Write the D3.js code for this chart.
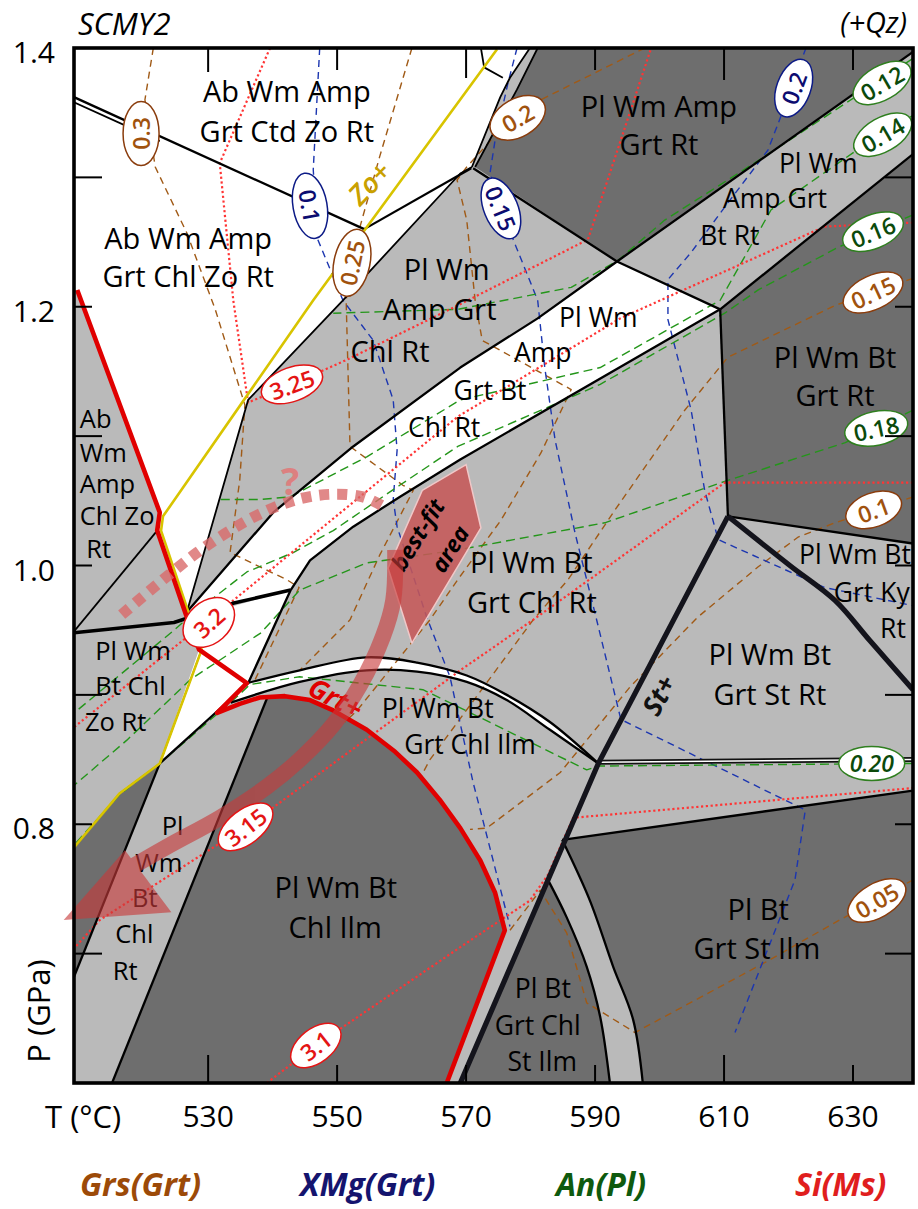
<!DOCTYPE html>
<html><head><meta charset="utf-8">
<script src="https://cdn.jsdelivr.net/npm/d3@7"></script>
<style>body{margin:0;background:#fff}svg{display:block}text{font-family:"Open Sans",sans-serif}</style>
</head><body>
<svg id="c" width="918" height="1209"></svg>
<script>
// ================= DATA (T in °C, P in GPa) =================
const tTicks = [530, 550, 570, 590, 610, 630];
const pTicks = [0.7, 0.8, 0.9, 1.0, 1.1, 1.2, 1.3];
const pLabels = [0.8, 1.0, 1.2, 1.4];

// field boundaries
const bandTop = [[593.4,1.235],[581.1,1.191],[569.1,1.153],[552.5,1.092],[540.1,1.041],[526.7,0.964]];
const bandBottom = [[609.4,1.198],[569.1,1.082],[559.7,1.053],[552.5,1.030],[545.8,1.004],[542.8,0.981]];
const thickLine = [[509.2,0.948],[524.7,0.956],[534.0,0.971],[542.8,0.981]];
const arcTop = [[536.0,0.909],[544.2,0.919],[554.6,0.929],[562.4,0.925],[570.1,0.915],[576.3,0.900],[583.0,0.879],[590.5,0.847]];
const arcBottom = [[533.5,0.894],[544.2,0.910],[554.6,0.919],[562.4,0.918],[570.1,0.910],[576.3,0.896],[583.0,0.873],[590.5,0.847]];
const stPlus = [[610.6,1.038],[590.5,0.847],[569.1,0.6]];
const kyLine = [[610.6,1.038],[620.2,1.000],[627.2,0.973],[632.6,0.942],[639.3,0.904]];
const rightCurve = [[584.9,0.788],[589.2,0.741],[592.8,0.690],[595.9,0.649],[597.4,0.6]];
const leftCurve = [[582.7,0.757],[585.6,0.728],[588.7,0.690],[590.8,0.651],[592.3,0.6]];
const hLine = [[590.5,0.848],[639.3,0.850]];
const redPath = [[509.7,1.213],[522.5,1.041],[522.1,1.027],[526.7,0.960],[528.6,0.935],[536.0,0.909],[531.4,0.886],[534.9,0.893],[538.0,0.898],[541.9,0.899],[545.8,0.896],[549.4,0.888],[554.6,0.873],[559.0,0.856],[562.4,0.840],[565.9,0.819],[569.1,0.797],[572.2,0.772],[574.5,0.747],[576.0,0.718],[567.0,0.6]];
const zoLine = [[574.8,1.399],[546.3,1.205],[523.0,1.038],[522.7,1.027],[527.2,0.960],[529.0,0.935],[522.5,0.847],[516.3,0.824],[509.2,0.782]];
const zoUnder = [[529.0,0.935],[522.5,0.847],[516.3,0.824],[509.2,0.782]];

const thinBounds = [
  [[509.2,1.358],[522.5,1.328]],
  [[570.9,1.308],[569.1,1.303],[550.9,1.205],[539.1,1.143],[536.2,1.128],[526.7,0.964]],
  [[570.9,1.308],[575.3,1.362],[576.8,1.377],[579.9,1.4]],
  [[571.4,1.308],[577.9,1.368],[581.1,1.4]],
  [[572.3,1.4],[572.8,1.385],[575.7,1.377]],
  [[509.2,0.949],[522.1,1.027]]
];
const midBounds = [
  [[509.2,1.362],[554.2,1.260]],
  [[554.2,1.260],[570.8,1.307]],
  [[571.1,1.307],[593.4,1.235],[609.4,1.198]],
  [[593.4,1.235],[639.3,1.397]],
  [[609.4,1.198],[639.3,1.318]],
  [[609.4,1.198],[610.6,1.038]],
  [[610.6,1.038],[639.3,1.017]],
  [[542.8,0.981],[536.2,0.909],[522.5,0.847]],
  [[522.5,0.847],[509.2,0.682]],
  [[539.1,0.897],[515.1,0.6]],
  [[584.9,0.788],[639.3,0.826]]
];

// fields
const white1 = [[509.2,1.4],[579.9,1.4],[576.8,1.377],[575.3,1.362],[570.9,1.308],[569.1,1.303],[550.9,1.205],[539.1,1.143],[536.2,1.128],[526.7,0.964],[522.1,1.027],[522.5,1.041],[509.7,1.213],[509.2,1.213]];
const white3 = [[527.0,0.959],[542.8,0.981],[536.2,0.909],[531.4,0.886],[522.5,0.847],[528.6,0.935]];
const dark1 = [[581.1,1.4],[639.3,1.4],[639.3,1.397],[593.4,1.235],[571.4,1.308],[577.9,1.368]];
const dark2 = [[609.4,1.198],[639.3,1.318],[639.3,1.017],[610.6,1.038]];
const dark4 = [[509.2,0.782],[516.3,0.824],[522.5,0.847],[509.2,0.682]];

// isopleths
const grsLines = [
  [[521.5,1.4],[520.2,1.360],[521.8,1.308],[526.7,1.257],[531.1,1.198],[535.7,1.124],[534.9,1.066],[533.4,1.010],[542.2,0.989],[544.1,0.983],[537.3,0.912]],
  [[561.6,1.4],[556.6,1.316],[553.5,1.261],[552.3,1.235],[551.4,1.205],[552.0,1.092],[560.2,1.062],[561.8,1.058],[556.6,1.008],[552.0,0.958],[544.2,0.919]],
  [[597.7,1.4],[581.6,1.360],[578.0,1.346],[573.9,1.329],[570.1,1.308],[568.6,1.298],[570.1,1.267],[571.4,1.205],[572.5,1.174],[586.3,1.136],[581.6,1.087],[575.4,1.035],[568.7,0.989],[564.4,0.958],[553.1,0.888],[551.2,0.879]],
  [[639.3,1.222],[627.2,1.201],[610.6,1.161],[603.9,1.120],[593.1,1.043],[585.8,0.989],[580.4,0.958],[564.4,0.850],[562.9,0.836]],
  [[639.3,1.053],[627.2,1.033],[621.5,1.022],[615.3,0.999],[605.9,0.960],[595.4,0.906],[584.6,0.840],[573.2,0.797],[570.6,0.796]],
  [[639.3,0.757],[627.2,0.724],[616.3,0.693],[596.2,0.639],[588.7,0.662],[585.6,0.716],[581.5,0.749],[576.8,0.718]]
];
const xmgLines = [
  [[547.3,1.4],[546.3,1.306],[547.0,1.252],[550.9,1.205],[555.6,1.174],[558.7,1.128],[559.3,1.089],[558.7,1.051],[559.3,1.030],[563.9,0.960],[567.5,0.914],[571.1,0.832],[572.2,0.811],[576.8,0.721]],
  [[577.9,1.4],[576.5,1.373],[574.5,1.329],[573.7,1.303],[577.3,1.252],[581.1,1.205],[582.2,1.153],[583.8,1.097],[586.9,1.025],[590.0,0.963],[594.0,0.881],[622.6,0.811],[621.0,0.757],[611.7,0.639]],
  [[622.7,1.4],[618.8,1.347],[616.8,1.321],[610.1,1.277],[604.9,1.242],[601.3,1.221],[601.3,1.190],[604.9,1.120],[607.0,1.058],[609.1,1.020],[625.6,0.983],[639.3,0.969]]
];
const anLines = [
  [[639.3,1.392],[630.3,1.362],[615.3,1.313],[600.8,1.267],[593.6,1.236],[586.3,1.215],[568.7,1.198],[549.4,1.195]],
  [[639.3,1.348],[630.3,1.320],[617.3,1.275],[609.4,1.205],[590.8,1.153],[569.1,1.128],[554.6,1.084],[542.7,1.053],[538.0,1.051],[531.4,1.051]],
  [[639.3,1.271],[627.7,1.246],[615.3,1.213],[610.1,1.195],[590.8,1.140],[568.7,1.092],[559.7,1.062],[549.4,1.027],[543.2,1.010],[536.0,0.995],[527.0,0.960],[524.7,0.950],[509.2,0.886]],
  [[639.3,1.120],[628.8,1.095],[610.1,1.065],[591.5,1.033],[568.7,1.012],[554.6,1.002],[544.2,0.981],[538.2,0.948],[527.3,0.912],[517.4,0.865],[509.2,0.830]],
  [[639.3,0.847],[590.5,0.845],[588.7,0.842],[568.7,0.891],[563.3,0.904],[544.2,0.914],[536.5,0.908],[533.9,0.896],[522.5,0.847],[516.3,0.823],[509.2,0.784]]
];
const siLines = [
  [[539.6,1.4],[531.8,1.311],[533.9,1.205],[536.2,1.126],[543.0,1.140],[551.5,1.159],[568.7,1.201],[588.9,1.252],[598.7,1.4]],
  [[639.3,1.265],[625.6,1.262],[593.9,1.191],[568.7,1.115],[533.9,0.973],[530.1,0.956],[526.3,0.943],[509.2,0.875]],
  [[639.3,1.064],[610.1,1.064],[580.4,0.958],[569.1,0.919],[540.1,0.813],[535.8,0.798],[513.2,0.726],[509.2,0.704]],
  [[539.1,0.6],[546.7,0.629],[569.1,0.705],[579.9,0.741],[582.7,0.761],[586.6,0.805],[639.3,0.828]]
];

// isopleth labels [text, T, P]
const grsLabels = [["0.3",519.6,1.334],["0.25",552.3,1.234],["0.2",578.0,1.346],["0.15",633.1,1.211],["0.1",633.2,1.043],["0.05",633.7,0.741]];
const xmgLabels = [["0.1",545.8,1.278],["0.15",575.4,1.276],["0.2",620.8,1.369]];
const anLabels = [["0.12",634.5,1.373],["0.14",634.6,1.333],["0.16",633.1,1.258],["0.18",633.6,1.106],["0.20",632.9,0.847]];
const siLabels = [["3.25",543.0,1.140],["3.2",530.1,0.956],["3.15",535.8,0.798],["3.1",546.7,0.629]];

// field names [text, T, P]
const fieldNamesBig = [
  ["Ab Wm Amp",542.2,1.358],["Grt Ctd Zo Rt",542.2,1.327],
  ["Ab Wm Amp",526.9,1.245],["Grt Chl Zo Rt",526.9,1.215],
  ["Pl Wm Amp",599.9,1.347],["Grt Rt",599.9,1.317],
  ["Pl Wm",567.0,1.221],["Amp Grt",565.9,1.190],["Chl Rt",558.2,1.157],
  ["Pl Wm Bt",627.2,1.153],["Grt Rt",627.2,1.123],
  ["Pl Wm Bt",580.1,0.994],["Grt Chl Rt",580.2,0.963],
  ["Pl Wm Bt",617.1,0.923],["Grt St Rt",617.1,0.892],
  ["Pl Wm Bt",549.8,0.743],["Chl Ilm",549.7,0.712],
  ["Pl Bt",615.3,0.726],["Grt St Ilm",615.1,0.696]
];
const fieldNamesSmall = [
  ["Pl Wm",624.6,1.303],["Amp Grt",617.9,1.276],["Bt Rt",610.9,1.248],
  ["Pl Wm",590.5,1.184],["Amp",581.9,1.157],["Grt Bt",573.7,1.128],["Chl Rt",566.6,1.099],
  ["Pl Wm Bt",630.3,1.001],["Grt Ky",632.9,0.972],["Rt",636.2,0.944],
  ["Pl Wm Bt",565.6,0.882],["Grt Chl Ilm",570.6,0.854],
  ["Pl Bt",581.9,0.666],["Grt Chl",581.1,0.637],["St Ilm",581.8,0.609]
];
const fieldNamesLeft = [
  ["Ab",510.1,1.106],["Wm",510.1,1.080],["Amp",510.1,1.056],["Chl Zo",510.1,1.031],["Rt",511.1,1.006],
  ["Pl Wm",512.5,0.927],["Bt Chl",512.5,0.900],["Zo Rt",510.9,0.872],
  ["Pl",522.8,0.792],["Wm",518.7,0.763],["Bt",518.2,0.736],["Chl",515.6,0.708],["Rt",515.2,0.680]
];

// interpretation
const bestFit = [[563.2,1.058],[570.0,1.078],[572.3,1.029],[561.6,0.940],[557.9,0.998]];
const pathArrow = [[559.0,1.012],[558.7,0.973],[557.1,0.945],[553.5,0.907],[549.4,0.877],[544.2,0.850],[539.1,0.829],[531.8,0.805],[524.1,0.784],[518.5,0.768]];
const arrowHead = [[517.1,0.780],[524.3,0.732],[507.6,0.726]];
const dottedPath = [[516.6,0.962],[522.5,0.987],[528.3,1.010],[533.4,1.027],[538.5,1.041],[543.8,1.051],[548.9,1.055],[554.0,1.053],[557.4,1.045]];

// ================= DRAWING =================
const svg = d3.select("#c");
const X = d3.scaleLinear().domain([509.2, 639.3]).range([74, 913]);
const Y = d3.scaleLinear().domain([0.6, 1.4]).range([1083, 48]);
const line = d3.line().x(d => X(d[0])).y(d => Y(d[1]));
const smooth = d3.line().x(d => X(d[0])).y(d => Y(d[1])).curve(d3.curveCatmullRom.alpha(0.5));
const poly = p => line(p) + "Z";
const smoothPoly = (a, b) => smooth(a) + smooth(b.slice().reverse()).replace(/^M/, "L") + "Z";

svg.append("defs").append("clipPath").attr("id", "pc").append("rect")
  .attr("x", X(509.2)).attr("y", Y(1.4)).attr("width", X(639.3) - X(509.2)).attr("height", Y(0.6) - Y(1.4));
const plot = svg.append("g").attr("clip-path", "url(#pc)");

const LG = "#bababa", DG = "#6e6e6e";
plot.append("rect").attr("x", X(509.2)).attr("y", Y(1.4)).attr("width", X(639.3) - X(509.2)).attr("height", Y(0.6) - Y(1.4)).attr("fill", LG);

const white2 = bandTop.concat([thickLine[2], thickLine[3]]).concat(bandBottom.slice(0, -1).reverse());
const dark3 = [[539.1,0.897]].concat(redPath.slice(9)).concat([[515.1,0.6]]);
const dark5 = [leftCurve[0], stPlus[2]].concat(leftCurve.slice(1).reverse());
const dark6 = [rightCurve[0], [639.3,0.826], [639.3,0.6]].concat(rightCurve.slice(1).reverse());

[white1, white2, white3].forEach(p => plot.append("path").attr("d", poly(p)).attr("fill", "#fff"));
plot.append("path").attr("d", smoothPoly(arcTop, arcBottom)).attr("fill", "#fff");
[dark1, dark2, dark3, dark4].forEach(p => plot.append("path").attr("d", poly(p)).attr("fill", DG));
plot.append("path").attr("d", line([leftCurve[0], stPlus[2], [592.3,0.6]]) + smooth(leftCurve.slice().reverse()).replace(/^M/, "L") + "Z").attr("fill", DG);
plot.append("path").attr("d", line([[597.4,0.6],[639.3,0.6],[639.3,0.826]]) + smooth(rightCurve).replace(/^M/, "L") + "Z").attr("fill", DG);

function strokes(list, color, w, dash, gen) {
  list.forEach(p => {
    const s = plot.append("path").attr("d", (gen || line)(p)).attr("fill", "none")
      .attr("stroke", color).attr("stroke-width", w).attr("stroke-linejoin", "round");
    if (dash) s.attr("stroke-dasharray", dash);
  });
}
strokes(grsLines, "#a05a16", 1.4, "7,5");
strokes(xmgLines, "#1c36b0", 1.4, "7,5");
strokes(anLines, "#24961a", 1.4, "9,5");
strokes(siLines, "#ff3434", 2.2, "2.2,2.6");

// best-fit area
plot.append("path").attr("d", poly(bestFit)).attr("fill", "#c55858").attr("fill-opacity", 0.88)
  .attr("stroke", "#f0c8c8").attr("stroke-width", 1.5);

// boundaries
strokes(thinBounds, "#000", 1.8);
strokes(midBounds, "#000", 2.3);
strokes([bandTop, bandBottom], "#000", 2.3);
strokes([arcTop, arcBottom, rightCurve, leftCurve], "#000", 2.3, null, smooth);
strokes([thickLine], "#000", 3.6);
strokes([zoUnder], "#000", 1.4);
strokes([hLine], "#111", 5);
strokes([hLine], "#fff", 1.5);
strokes([stPlus], "#14141c", 5.2);
strokes([kyLine], "#14141c", 5.2, null, smooth);
strokes([zoLine], "#d8c400", 2.6);
strokes([redPath], "#e00000", 4.6);

// field names
function names(list, size, anchor) {
  list.forEach(d => svg.append("text").attr("x", X(d[1])).attr("y", Y(d[2]))
    .attr("text-anchor", anchor).attr("font-size", size).attr("fill", "#000").text(d[0]));
}
names(fieldNamesBig, 29, "middle");
names(fieldNamesSmall, 26.5, "middle");
names(fieldNamesLeft, 25.5, "start");

// rotated annotation texts
function rtext(txt, T, P, ang, size, color, weight, style) {
  svg.append("text").attr("transform", `translate(${X(T)},${Y(P)}) rotate(${ang})`)
    .attr("text-anchor", "middle").attr("dominant-baseline", "central")
    .attr("font-size", size).attr("fill", color).attr("font-weight", weight).attr("font-style", style).text(txt);
}
rtext("Grt+", 549.8, 0.898, 27, 27, "#e00000", 700, "italic");
rtext("St+", 599.8, 0.900, -62, 27, "#111", 700, "italic");
rtext("Zo+", 554.9, 1.296, -46, 28, "#c9a000", 600, "italic");
rtext("?", 542.7, 1.066, 0, 38, "#dc8080", 700, "normal");
rtext("best-fit", 562.4, 1.024, -58, 23, "#000", 700, "italic");
rtext("area", 567.4, 1.013, -58, 23, "#000", 700, "italic");

// P-T path arrows
const arr = svg.append("g").attr("opacity", 0.62);
arr.append("path").attr("d", smooth(pathArrow)).attr("fill", "none").attr("stroke", "#c83a3a").attr("stroke-width", 16);
arr.append("path").attr("d", poly(arrowHead)).attr("fill", "#c83a3a");
svg.append("path").attr("d", smooth(dottedPath)).attr("fill", "none").attr("stroke", "#d96a6a")
  .attr("stroke-opacity", 0.8).attr("stroke-width", 11).attr("stroke-dasharray", "10,8");

// isopleth labels
function isoLabels(list, angles, stroke, fill, extra) {
  list.forEach((d, i) => {
    const g = svg.append("g").attr("transform", `translate(${X(d[1])},${Y(d[2])}) rotate(${angles[i]})`);
    const rx = d[0].length > 3 ? 32 : 29;
    g.append("ellipse").attr("rx", (extra && extra[i]) ? extra[i][0] : rx).attr("ry", (extra && extra[i]) ? extra[i][1] : 17)
      .attr("fill", "#fff").attr("stroke", stroke).attr("stroke-width", 1.5);
    g.append("text").attr("text-anchor", "middle").attr("dominant-baseline", "central")
      .attr("font-size", 23).attr("font-weight", 600).attr("fill", fill)
      .attr("font-style", d[0] === "0.20" ? "italic" : "normal").text(d[0]);
  });
}
isoLabels(grsLabels, [-90, -78, -30, -25, -20, -30], "#8a3c0c", "#a0520e", [[32,18],[34,18],[30,19]]);
isoLabels(xmgLabels, [80, 68, -70], "#0c1a86", "#0c0c70", [[33,17],[32,17],[30,17]]);
isoLabels(anLabels, [-30, -30, -22, -12, 0], "#2f7f1f", "#0b4a0b", [null,null,null,null,[33,17]]);
isoLabels(siLabels, [-20, -42, -38, -38], "#e41414", "#e41414", [null,[29,21],null,null]);

// frame
svg.append("rect").attr("x", X(509.2)).attr("y", Y(1.4)).attr("width", X(639.3) - X(509.2)).attr("height", Y(0.6) - Y(1.4))
  .attr("fill", "none").attr("stroke", "#000").attr("stroke-width", 3.6);

// ticks
const topLen = [24, 22, 30, 22, 32, 22], botLen = [28, 18, 18, 18, 28, 18];
tTicks.forEach((t, i) => {
  svg.append("line").attr("x1", X(t)).attr("x2", X(t)).attr("y1", Y(1.4)).attr("y2", Y(1.4) + topLen[i]).attr("stroke", "#000").attr("stroke-width", 2);
  svg.append("line").attr("x1", X(t)).attr("x2", X(t)).attr("y1", Y(0.6)).attr("y2", Y(0.6) - botLen[i]).attr("stroke", "#000").attr("stroke-width", 2);
  svg.append("text").attr("x", X(t)).attr("y", 1127).attr("text-anchor", "middle").attr("font-size", 30).text(t);
});
pTicks.forEach(p => {
  const L = Math.round(p * 10) % 2 === 1 ? 28 : 18;
  svg.append("line").attr("x1", X(509.2)).attr("x2", X(509.2) + L).attr("y1", Y(p)).attr("y2", Y(p)).attr("stroke", "#000").attr("stroke-width", 2);
  svg.append("line").attr("x1", X(639.3)).attr("x2", X(639.3) - L).attr("y1", Y(p)).attr("y2", Y(p)).attr("stroke", "#000").attr("stroke-width", 2);
});
pLabels.forEach(p => svg.append("text").attr("x", 55).attr("y", Y(p) + 15).attr("text-anchor", "end").attr("font-size", 30).text(p.toFixed(1)));

svg.append("text").attr("x", 45).attr("y", 1128).attr("font-size", 31).text("T (°C)");
svg.append("text").attr("transform", "translate(50,1011) rotate(-90)").attr("text-anchor", "middle").attr("font-size", 31).text("P (GPa)");
svg.append("text").attr("x", 78).attr("y", 35).attr("font-size", 31).attr("font-style", "italic").text("SCMY2");
svg.append("text").attr("x", 907).attr("y", 33).attr("text-anchor", "end").attr("font-size", 29).attr("font-style", "italic").text("(+Qz)");

const legend = [["Grs(Grt)", 80, "#9c4a08"], ["XMg(Grt)", 300, "#14146e"], ["An(Pl)", 556, "#0e5a0e"], ["Si(Ms)", 795, "#e01e1e"]];
legend.forEach(d => svg.append("text").attr("x", d[1]).attr("y", 1196).attr("font-size", 32)
  .attr("font-weight", 700).attr("font-style", "italic").attr("fill", d[2]).text(d[0]));
</script>
</body></html>
